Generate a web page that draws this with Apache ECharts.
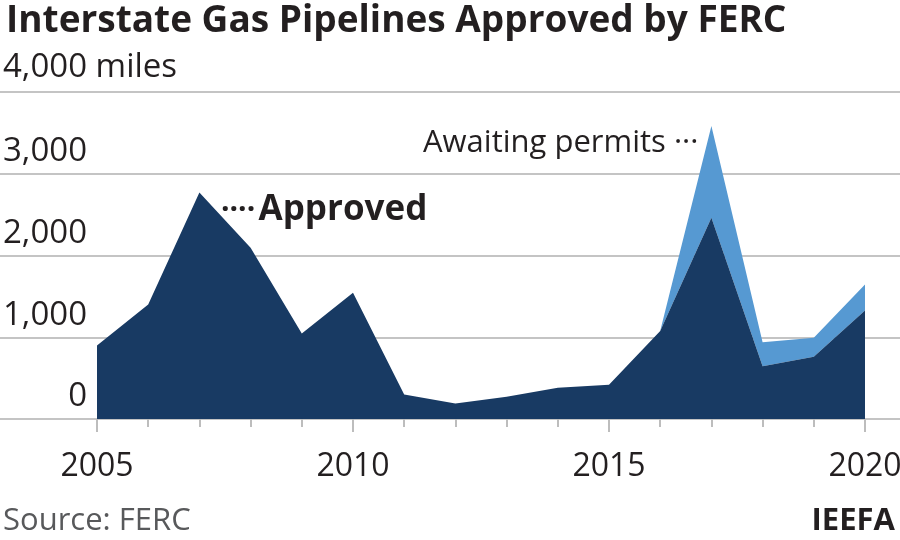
<!DOCTYPE html>
<html><head><meta charset="utf-8">
<script src="https://cdn.jsdelivr.net/npm/echarts@6/dist/echarts.min.js"></script>
<style>html,body{margin:0;padding:0;background:#fff}#c{width:900px;height:540px}</style>
</head><body><div id="c"></div>
<script>
const years = ['2005','2006','2007','2008','2009','2010','2011','2012','2013','2014','2015','2016','2017','2018','2019','2020'];
const approved = [900, 1400, 2770, 2095, 1045, 1545, 300, 190, 272, 382, 418, 1075, 2462, 646, 761, 1328];
const awaiting = [null, null, null, null, null, null, null, null, null, null, null, 0, 1122, 294, 233, 318];
const yTicks = [0, 1000, 2000, 3000, 4000];

const FONT = '"Open Sans", "Noto Sans", sans-serif';
const TXT = '#231f20';
const chart = echarts.init(document.getElementById('c'));
chart.setOption({
  animation: false,
  backgroundColor: '#fff',
  title: {
    text: 'Interstate Gas Pipelines Approved by FERC',
    left: 1, top: -2,
    textStyle: {fontFamily: FONT, fontWeight: 'bold', fontSize: 37, color: TXT}
  },
  grid: [
    {left: 0, right: 0, top: 92, bottom: 121, outerBoundsMode: 'none', containLabel: false},
    {left: 97, right: 35, top: 92, bottom: 121, outerBoundsMode: 'none', containLabel: false}
  ],
  xAxis: [
    {gridIndex: 0, type: 'value', min: 0, max: 1, show: false},
    {gridIndex: 1, type: 'category', data: years, boundaryGap: false,
     axisLine: {show: false},
     axisTick: {show: true, interval: 0, length: 8, lineStyle: {color: '#bdbdbd', width: 2}},
     axisLabel: {show: false}},
    {gridIndex: 1, type: 'category', data: years, boundaryGap: false, position: 'bottom',
     axisLine: {show: false},
     axisTick: {show: true, interval: 4, length: 13, lineStyle: {color: '#bdbdbd', width: 2}},
     axisLabel: {show: true, interval: 4, margin: 32, fontFamily: FONT, fontSize: 32, color: TXT}}
  ],
  yAxis: [
    {gridIndex: 0, type: 'value', min: yTicks[0], max: yTicks[yTicks.length-1], interval: 1000,
     axisLine: {show: false}, axisTick: {show: false}, axisLabel: {show: false},
     splitLine: {show: true, lineStyle: {color: '#c4c4c4', width: 2}}},
    {gridIndex: 1, type: 'value', min: yTicks[0], max: yTicks[yTicks.length-1], interval: 1000,
     axisLine: {show: false}, axisTick: {show: false}, splitLine: {show: false},
     axisLabel: {show: true, margin: 10, verticalAlign: 'bottom', fontFamily: FONT, fontSize: 33, color: TXT, lineHeight: 44,
       formatter: v => v === 4000 ? '' : v.toLocaleString('en-US')}}
  ],
  series: [
    {name: 'Approved', type: 'line', xAxisIndex: 1, yAxisIndex: 1, stack: 'total', data: approved,
     symbol: 'none', lineStyle: {width: 0}, areaStyle: {color: '#183a63', opacity: 1}, z: 3},
    {name: 'Awaiting permits', type: 'line', xAxisIndex: 1, yAxisIndex: 1, stack: 'total', data: awaiting,
     symbol: 'none', lineStyle: {width: 0}, areaStyle: {color: '#5699d2', opacity: 1}, z: 2}
  ],
  graphic: [
    {type: 'text', left: 3, top: 51, style: {text: '4,000 miles', font: '33px ' + FONT, fill: TXT}},
    {type: 'text', left: 3, top: 506, style: {text: 'Source: FERC', font: '31px ' + FONT, fill: '#58595b'}},
    {type: 'text', right: 5, top: 506, style: {text: 'IEEFA', font: 'bold 31px ' + FONT, fill: TXT}},
    {type: 'text', left: 221, top: 193, style: {
      text: '{d|····} {b|Approved}',
      rich: {d: {font: 'bold 30px ' + FONT, fill: TXT}, b: {font: 'bold 35px ' + FONT, fill: TXT}}}},
    {type: 'text', left: 423, top: 128, style: {text: 'Awaiting permits ···', font: '31px ' + FONT, fill: TXT}}
  ]
});
</script></body></html>
